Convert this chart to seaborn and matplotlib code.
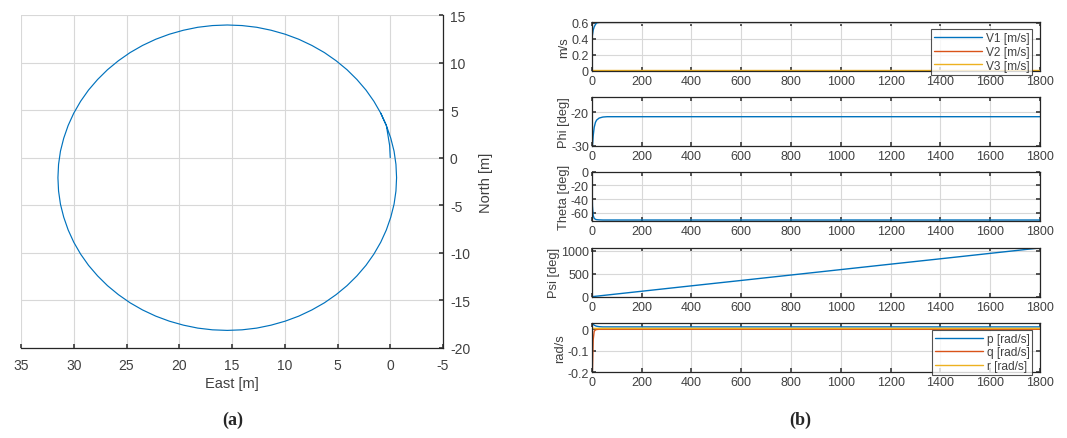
import matplotlib
matplotlib.use("Agg")
import matplotlib.pyplot as plt
import seaborn as sns
import pandas as pd

# ---------------- data ----------------
east = [0.00, 0.06, 0.37, 0.90, 1.55, 2.30, 3.16, 4.10, 5.13, 6.24, 7.43, 8.67, 9.96,
        11.30, 12.66, 14.05, 15.45, 16.85, 18.24, 19.60, 20.94, 22.23, 23.48, 24.66,
        25.77, 26.80, 27.74, 28.60, 29.35, 30.00, 30.53, 30.95, 31.26, 31.44, 31.50,
        31.44, 31.26, 30.95, 30.53, 30.00, 29.35, 28.60, 27.74, 26.80, 25.77, 24.66,
        23.48, 22.23, 20.94, 19.60, 18.24, 16.85, 15.45, 14.05, 12.66, 11.30, 9.96,
        8.67, 7.43, 6.24, 5.13, 4.10, 3.16, 2.30, 1.55, 0.90, 0.37, -0.05, -0.36,
        -0.54, -0.60, -0.54, -0.36, -0.05, 0.37, 0.90]
north = [0.00, 1.30, 3.39, 4.68, 5.93, 7.11, 8.22, 9.25, 10.19, 11.05, 11.80, 12.45,
         12.98, 13.40, 13.71, 13.89, 13.95, 13.89, 13.71, 13.40, 12.98, 12.45, 11.80,
         11.05, 10.19, 9.25, 8.22, 7.11, 5.93, 4.68, 3.39, 2.05, 0.69, -0.70, -2.10,
         -3.50, -4.89, -6.25, -7.59, -8.88, -10.13, -11.31, -12.42, -13.45, -14.39,
         -15.25, -16.00, -16.65, -17.18, -17.60, -17.91, -18.09, -18.15, -18.09,
         -17.91, -17.60, -17.18, -16.65, -16.00, -15.25, -14.39, -13.45, -12.42,
         -11.31, -10.13, -8.88, -7.59, -6.25, -4.89, -3.50, -2.10, -0.70, 0.69, 2.05,
         3.39, 4.68]

t_fast = [0, 3, 6, 10, 15, 20, 30, 45, 62, 100, 1800]
V1 = [0.38, 0.45, 0.51, 0.55, 0.58, 0.60, 0.607, 0.61, 0.612, 0.612, 0.612]
V2 = [0.00, 0.00, 0.00, 0.00, 0.00, 0.00, 0.00, 0.00, 0.00, 0.00, 0.00]
V3 = [0.003, 0.003, 0.003, 0.003, 0.003, 0.003, 0.003, 0.003, 0.003, 0.003, 0.003]
Phi = [-31.0, -30.0, -27.0, -24.5, -23.0, -22.3, -21.7, -21.4, -21.3, -21.3, -21.3]
Theta = [0.0, -50.0, -64.0, -68.0, -69.5, -70.0, -70.3, -70.5, -70.5, -70.5, -70.5]
p_rate = [0.022, 0.025, 0.022, 0.018, 0.015, 0.013, 0.011, 0.010, 0.010, 0.010, 0.010]
q_rate = [-0.200, -0.190, -0.050, -0.010, -0.004, -0.002, -0.001, -0.001, -0.001, -0.001, -0.001]
r_rate = [0.000, 0.002, 0.003, 0.003, 0.003, 0.003, 0.003, 0.003, 0.003, 0.003, 0.003]

t_psi = [0, 200, 400, 600, 800, 1000, 1200, 1400, 1600, 1800]
Psi = [0, 118, 236, 353, 471, 589, 707, 824, 942, 1060]

xticks_b = [0, 200, 400, 600, 800, 1000, 1200, 1400, 1600, 1800]

# ---------------- style ----------------
sns.set_theme(style="white")
plt.rcParams["font.family"] = ["Liberation Sans", "DejaVu Sans"]
plt.rcParams["axes.unicode_minus"] = False
C_BLUE, C_ORANGE, C_YELLOW = "#0072BD", "#D95319", "#EDB120"
TXT = "#404040"
GRID = "#d8d8d8"

W, H = 1067, 439
fig = plt.figure(figsize=(W / 100, H / 100), dpi=100)

def fx(px):
    return px / W

def fy(py):
    return 1 - py / H

# ---------------- left panel ----------------
axa = fig.add_axes([fx(21), fy(349), fx(443) - fx(21), fy(16) - fy(349)])
dfa = pd.DataFrame({"east": east, "north": north})
sns.lineplot(data=dfa, x="east", y="north", sort=False, estimator=None,
             color=C_BLUE, lw=0.85, ax=axa)
axa.set_xlim(35, -5)
axa.set_ylim(-20, 15)
axa.set_xticks(range(35, -6, -5))
axa.set_yticks(range(-20, 16, 5))
axa.yaxis.tick_right()
axa.yaxis.set_label_position("right")
axa.grid(True, color=GRID, lw=0.8)
for s in ["top", "left"]:
    axa.spines[s].set_visible(False)
for s in ["bottom", "right"]:
    axa.spines[s].set_color("#262626")
    axa.spines[s].set_linewidth(0.9)
axa.tick_params(direction="in", length=3, labelsize=10, colors=TXT, pad=7,
                bottom=True, right=True, left=False)
axa.tick_params(axis="y", pad=5)
for lab in axa.get_yticklabels():
    lab.set_ha("left")
axa.set_xlabel("East [m]", fontsize=10.5, color=TXT, labelpad=3)
axa.set_ylabel("North [m]", fontsize=10.5, color=TXT, labelpad=6)

# ---------------- right panels ----------------
tops = [22.7, 97.7, 172.7, 248.7, 324.0]
bots = [71.7, 146.7, 221.7, 297.7, 373.3]
axes_b = []
for tp, bt in zip(tops, bots):
    ax = fig.add_axes([fx(591.7), fy(bt), fx(1040) - fx(591.7), fy(tp) - fy(bt)])
    axes_b.append(ax)

df_fast = pd.DataFrame({"t": t_fast, "V1": V1, "V2": V2, "V3": V3, "Phi": Phi,
                        "Theta": Theta, "p": p_rate, "q": q_rate, "r": r_rate})
df_psi = pd.DataFrame({"t": t_psi, "Psi": Psi})

ax1, ax2, ax3, ax4, ax5 = axes_b
sns.lineplot(data=df_fast, x="t", y="V1", color=C_BLUE, lw=1.0, ax=ax1, label="V1 [m/s]")
sns.lineplot(data=df_fast, x="t", y="V2", color=C_ORANGE, lw=1.0, ax=ax1, label="V2 [m/s]")
sns.lineplot(data=df_fast, x="t", y="V3", color=C_YELLOW, lw=1.0, ax=ax1, label="V3 [m/s]")
sns.lineplot(data=df_fast, x="t", y="Phi", color=C_BLUE, lw=1.0, ax=ax2)
sns.lineplot(data=df_fast, x="t", y="Theta", color=C_BLUE, lw=1.0, ax=ax3)
sns.lineplot(data=df_psi, x="t", y="Psi", color=C_BLUE, lw=1.0, ax=ax4)
sns.lineplot(data=df_fast, x="t", y="p", color=C_BLUE, lw=1.0, ax=ax5, label="p [rad/s]")
sns.lineplot(data=df_fast, x="t", y="q", color=C_ORANGE, lw=1.0, ax=ax5, label="q [rad/s]")
sns.lineplot(data=df_fast, x="t", y="r", color=C_YELLOW, lw=1.0, ax=ax5, label="r [rad/s]")

ax1.set_ylim(0, 0.615); ax1.set_yticks([0, 0.2, 0.4, 0.6]); ax1.set_yticklabels(["0", "0.2", "0.4", "0.6"])
ax2.set_ylim(-30, -15.3); ax2.set_yticks([-30, -20]); ax2.set_yticklabels(["-30", "-20"])
ax3.set_ylim(-71.5, 0); ax3.set_yticks([-60, -40, -20, 0]); ax3.set_yticklabels(["-60", "-40", "-20", "0"])
ax4.set_ylim(0, 1065); ax4.set_yticks([0, 500, 1000])
ax5.set_ylim(-0.2, 0.028); ax5.set_yticks([-0.2, -0.1, 0]); ax5.set_yticklabels(["-0.2", "-0.1", "0"])

ylabels = ["m/s", "Phi [deg]", "Theta [deg]", "Psi [deg]", "rad/s"]
for ax, yl in zip(axes_b, ylabels):
    ax.set_xlim(0, 1800)
    ax.set_xticks(xticks_b)
    ax.grid(True, color=GRID, lw=0.8)
    for s in ax.spines.values():
        s.set_visible(True)
        s.set_color("#262626")
        s.set_linewidth(0.9)
    ax.tick_params(direction="in", length=3, labelsize=9, colors=TXT, pad=2,
                   top=True, right=True, bottom=True, left=True)
    ax.tick_params(axis="x", pad=3)
    ax.set_xlabel("")
    ax.set_ylabel(yl, fontsize=9.3, color=TXT, labelpad=1)

for ax, loc_y in [(ax1, -0.08), (ax5, -0.06)]:
    leg = ax.legend(loc="lower right", bbox_to_anchor=(0.983, loc_y), fontsize=8.6,
                    frameon=True, fancybox=False, handlelength=4.0, handletextpad=0.3,
                    borderpad=0.25, labelspacing=0.15, borderaxespad=0.0)
    leg.get_frame().set_edgecolor("#262626")
    leg.get_frame().set_linewidth(0.8)
    for txt in leg.get_texts():
        txt.set_color(TXT)

# ---------------- captions ----------------
fig.text(fx(233), fy(420), "(a)", ha="center", va="center", fontsize=13,
         fontweight="bold", family=["Liberation Serif", "DejaVu Serif"])
fig.text(fx(800), fy(420), "(b)", ha="center", va="center", fontsize=13,
         fontweight="bold", family=["Liberation Serif", "DejaVu Serif"])

fig.savefig("out.png", dpi=100)
